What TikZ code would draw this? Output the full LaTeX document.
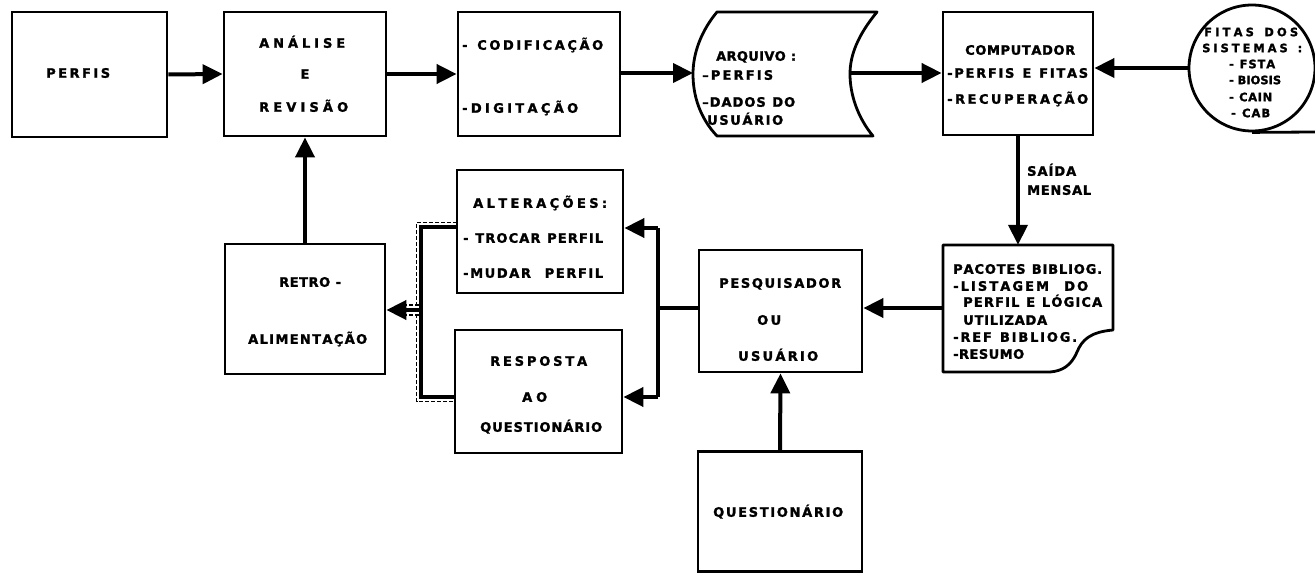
\documentclass[tikz,border=0pt]{standalone}
\usepackage{fontspec}
\setmainfont{DejaVu Sans}[BoldFeatures={FakeBold=1.6}]
\usetikzlibrary{arrows.meta}
\makeatletter
\newcommand\spr[2]{\hbox to #1pt{\@tfor\spr@t:=#2\do{\spr@t\hfil}\unskip}}
\makeatother
\begin{document}
\begin{tikzpicture}[x=1pt,y=-1pt,
  bx/.style={draw, line width=2.8pt, inner sep=0pt},
  ghost/.style={inner sep=0pt},
  shp/.style={line width=2.8pt, line join=round},
  lbl/.style={inner sep=0pt, anchor=west, font=\bfseries\fontsize{13}{15}\selectfont, text height=9.5pt, text depth=0pt},
  lblc/.style={lbl, anchor=center},
  plbl/.style={lbl, font=\bfseries\fontsize{13}{15}\selectfont, text height=9.5pt},
  clbl/.style={lbl, font=\bfseries\fontsize{11.5}{13}\selectfont, text height=8.4pt},
  ln/.style={line width=4pt},
  arr/.style={ln, -{Triangle[length=20pt,width=19pt]}},
  dsh/.style={line width=1.2pt, dash pattern=on 4pt off 2pt}
]
\fill[white] (0,0) rectangle (1315,575);
\useasboundingbox (0,0) rectangle (1315,575);

% ---------- boxes ----------
\node[bx, minimum width=155pt, minimum height=125pt] (perfis) at (89.5,74.5) {};
\node[bx, minimum width=162pt, minimum height=124pt] (analise) at (305,74) {};
\node[bx, minimum width=162pt, minimum height=124pt] (codif) at (539,74) {};
\node[ghost, minimum width=184pt, minimum height=124pt] (arquivo) at (785,74) {};
\node[bx, minimum width=150pt, minimum height=123pt] (comp) at (1018,73.5) {};
\node[bx, circle, minimum size=126pt] (fitas) at (1252,68) {};
\node[ghost, minimum width=170pt, minimum height=127pt] (pacotes) at (1028,308.5) {};
\node[bx, minimum width=163pt, minimum height=122pt] (pesq) at (780.5,311) {};
\node[bx, minimum width=164pt, minimum height=120pt] (quest) at (780,511.5) {};
\node[bx, minimum width=166pt, minimum height=123pt] (alter) at (540,231.5) {};
\node[bx, minimum width=167pt, minimum height=123pt] (resp) at (538.5,391.5) {};
\node[bx, minimum width=160pt, minimum height=130pt] (retro) at (305,309) {};

% arquivo (stored data) outline
\draw[shp] (717,12) -- (877,12) .. controls (858,35) and (850,55) .. (850,74)
  .. controls (850,95) and (858,118) .. (873,136) -- (717,136)
  .. controls (700,118) and (693,96) .. (693,74)
  .. controls (693,52) and (702,30) .. (717,12) -- cycle;
% pacotes (document) outline
\draw[shp] (943,245) -- (1113,245) -- (1113,330)
  .. controls (1090,332) and (1082,340) .. (1077,352)
  .. controls (1071,366) and (1062,371) .. (1050,372) -- (943,372) -- cycle;
% tape line of the circle
\coordinate (tapeEnd) at (1315,132);
\draw[shp] (fitas.south) -- (tapeEnd);

% ---------- connector points ----------
\coordinate (arqL) at (693,73);
\coordinate (arqR) at (851,73);
\coordinate (jR) at (658,308);
\coordinate (jRt) at (658,228);
\coordinate (jRb) at (658,397);
\coordinate (jLt) at (421,227);
\coordinate (jLb) at (421,397);
\coordinate (jL) at (421,310);
\coordinate (dTa) at (457,222.5);
\coordinate (dTb) at (416.5,222.5);
\coordinate (dBb) at (416.5,401.5);
\coordinate (dBa) at (455,401.5);
\coordinate (dUa) at (419,305);
\coordinate (dUb) at (402,305);
\coordinate (dLa) at (419,315);
\coordinate (dLb) at (402,315);

% ---------- connectors ----------
\draw[arr] (perfis.east) -- (analise.west);
\draw[arr] (analise.east) -- (codif.west);
\draw[arr] (codif.east |- arqL) -- (arqL);
\draw[arr] (arqR) -- (arqR -| comp.west);
\draw[arr] (fitas.west) -- (fitas.west -| comp.east);
\draw[arr] (comp.south) -- (comp.south |- pacotes.north);
\draw[arr] (pacotes.west |- jR) -- (pesq.east |- jR);
\draw[ln] (pesq.west |- jR) -- (jR);
\draw[ln] (jRt) -- (jRb);
\draw[arr] (jRt) -- (jRt -| alter.east);
\draw[arr] (jRb) -- (jRb -| resp.east);
\draw[arr] (quest.north) -- (pesq.south);
\draw[ln] (alter.west |- jLt) -- (jLt) -- (jLb) -- (resp.west |- jLb);
\draw[dsh] (dTa) -- (dTb) -- (dBb) -- (dBa);
\draw[arr] (jL) -- (jL -| retro.east);
\draw[dsh] (dUa) -- (dUb);
\draw[dsh] (dLa) -- (dLb);
\draw[arr] (retro.north) -- (analise.south);

% ---------- texts ----------
\node[lbl] (tPerfis) at (46,73) {\spr{64}{PERFIS}};
\node[lbl] (tAn1) at (259,43) {\spr{86}{ANÁLISE}};
\node[lblc] (tAn2) at (305,74) {E};
\node[lbl] (tAn3) at (259,107) {\spr{89}{REVISÃO}};
\node[lbl] (tCo1) at (462,45) {\spr{141}{-~CODIFICAÇÃO}};
\node[lbl] (tCo2) at (462,108) {\spr{116}{-DIGITAÇÃO}};
\node[lbl] (tAr1) at (716,56) {\spr{80}{ARQUIVO~:}};
\node[lbl] (tAr2) at (702,75) {\spr{71}{–PERFIS}};
\node[lbl] (tAr3) at (702,102) {\spr{93}{–DADOS~DO}};
\node[lbl] (tAr4) at (707,120) {\spr{76}{USUÁRIO}};
\node[lbl] (tCm1) at (965,50) {\spr{110}{COMPUTADOR}};
\node[lbl] (tCm2) at (947,73) {\spr{141}{-PERFIS~E~FITAS}};
\node[lbl] (tCm3) at (947,99) {\spr{141}{-RECUPERAÇÃO}};
\node[clbl] (tFi1) at (1204,32) {\spr{94}{FITAS~DOS}};
\node[clbl] (tFi2) at (1202,48) {\spr{100}{SISTEMAS~:}};
\node[clbl] (tFi3) at (1229,64) {\spr{46}{-~FSTA}};
\node[clbl] (tFi4) at (1229,80) {\spr{52}{-~BIOSIS}};
\node[clbl] (tFi5) at (1229,97) {\spr{43}{-~CAIN}};
\node[clbl] (tFi6) at (1231,113) {\spr{39}{-~CAB}};
\node[lbl] (tSa1) at (1027,171) {\spr{49}{SAÍDA}};
\node[lbl] (tSa2) at (1027,190) {\spr{64}{MENSAL}};
\node[plbl] (tPa1) at (953,269) {\spr{149}{PACOTES~BIBLIOG.}};
\node[plbl] (tPa2) at (953,286) {\spr{135}{-LISTAGEM~~DO}};
\node[plbl] (tPa3) at (963,302) {\spr{139}{PERFIL~E~LÓGICA}};
\node[plbl] (tPa4) at (963,320) {\spr{84}{UTILIZADA}};
\node[plbl] (tPa5) at (953,337) {\spr{124}{-REF~BIBLIOG.}};
\node[plbl] (tPa6) at (953,354) {\spr{71}{-RESUMO}};
\node[lbl] (tPe1) at (719,283) {\spr{122}{PESQUISADOR}};
\node[lbl] (tPe2) at (757,320) {\spr{24}{OU}};
\node[lbl] (tPe3) at (738,356) {\spr{80}{USUÁRIO}};
\node[lbl] (tQu) at (713,512) {\spr{130}{QUESTIONÁRIO}};
\node[lbl] (tAl1) at (473,203) {\spr{134}{ALTERAÇÕES:}};
\node[lbl] (tAl2) at (463,238) {\spr{140}{-~TROCAR~PERFIL}};
\node[lbl] (tAl3) at (463,273) {\spr{140}{-MUDAR~~PERFIL}};
\node[lbl] (tRe1) at (490,361) {\spr{97}{RESPOSTA}};
\node[lbl] (tRe2) at (522,397) {\spr{25}{AO}};
\node[lbl] (tRe3) at (480,427) {\spr{122}{QUESTIONÁRIO}};
\node[lbl] (tRt1) at (279,282) {\spr{62}{RETRO~-}};
\node[lbl] (tRt2) at (248,339) {\spr{119}{ALIMENTAÇÃO}};
\end{tikzpicture}
\end{document}
